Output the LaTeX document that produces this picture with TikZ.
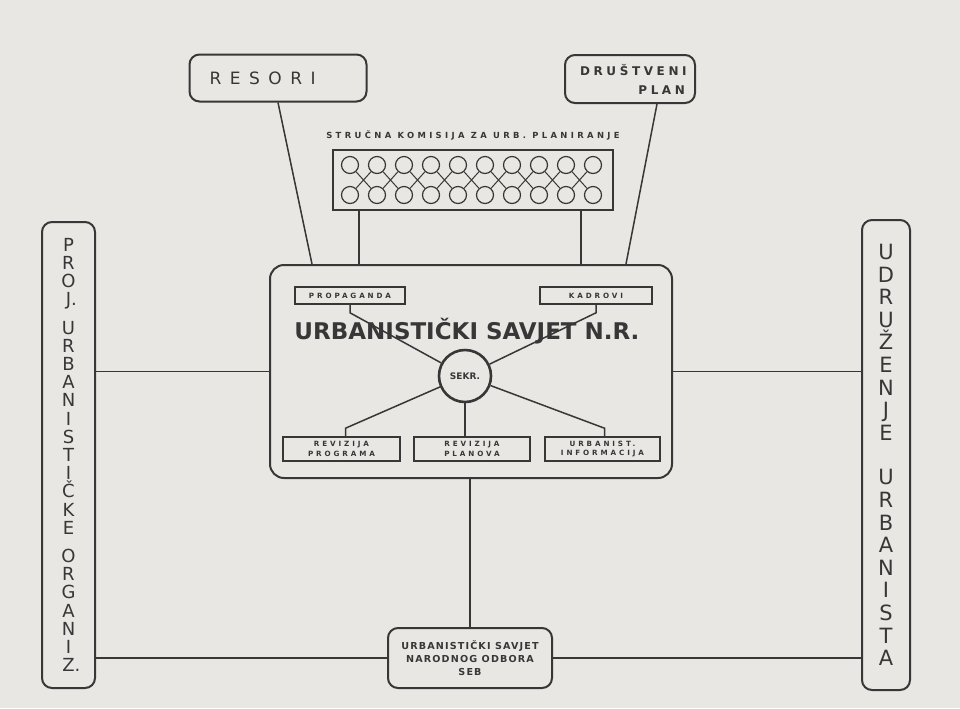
\documentclass[tikz,border=0pt]{standalone}
\usepackage{fontspec}
\setmainfont{DejaVu Sans}
\newfontfamily\wideink[LetterSpace=50]{DejaVu Sans}
\newfontfamily\midink[LetterSpace=30]{DejaVu Sans}
\newfontfamily\tagink[LetterSpace=40]{DejaVu Sans}
\newfontfamily\tightink[LetterSpace=12]{DejaVu Sans}
\usetikzlibrary{positioning, calc}
\definecolor{Paper}{RGB}{233,231,228}
\definecolor{Ink}{RGB}{55,55,55}

\begin{document}
\begin{tikzpicture}[
    x=0.5pt, y=-0.5pt, color=Ink,
    panel/.style={draw, line width=1pt, rounded corners=5pt, inner sep=0pt},
    tagbox/.style={draw, line width=0.8pt, inner sep=0pt, align=center,
        font=\tagink\bfseries\fontsize{3.6}{4.6}\selectfont},
    member/.style={circle, draw, line width=0.6pt, minimum size=8.5pt, inner sep=0pt},
    link/.style={line width=0.75pt},
    column/.style={panel, align=center, inner sep=0pt},
]
% --- papir ---
\fill[Paper] (0,0) rectangle (960,708);
\useasboundingbox (0,0) rectangle (960,708);

% --- gornji okviri ---
\node[panel, minimum width=88.5pt, minimum height=23.5pt] (resori) at (278,78) {};
\node[font=\wideink\fontsize{8.5}{10}\selectfont, anchor=west] at ($(resori.west)+(14,0)$) {RESORI};

\node[panel, minimum width=65pt, minimum height=24pt] (drus) at (630,79) {};
\node[font=\midink\bfseries\fontsize{6}{7}\selectfont, anchor=west] at ($(drus.west)+(9,-9)$) {DRUŠTVENI};
\node[font=\midink\bfseries\fontsize{6}{7}\selectfont, anchor=east] at ($(drus.east)+(-4,11)$) {PLAN};

% --- strucna komisija ---
\node[draw, line width=1pt, minimum width=140pt, minimum height=30pt, inner sep=0pt] (kom) at (473,180) {};
\node[font=\tagink\bfseries\fontsize{4.2}{5}\selectfont, above=1pt of kom] (komlbl) {STRUČNA KOMISIJA ZA URB. PLANIRANJE};
\foreach \i in {0,...,9}{
    \node[member] (t\i) at (350+27*\i,165) {};
    \node[member] (b\i) at (350+27*\i,195) {};
}
\foreach \i [count=\j from 1] in {0,...,8}{
    \draw[line width=0.5pt] (t\i) -- (b\j);
    \draw[line width=0.5pt] (b\i) -- (t\j);
}

% --- urbanisticki savjet N.R. ---
\node[panel, rounded corners=7pt, minimum width=201pt, minimum height=106.5pt] (main) at (471,371.5) {};
\node[tagbox, minimum width=55pt, minimum height=8.5pt] (prop) at (350,295.5) {PROPAGANDA};
\node[tagbox, minimum width=56pt, minimum height=8.5pt] (kadr) at (596,295.5) {KADROVI};
\node[font=\bfseries\fontsize{11.5}{13}\selectfont] (title) at (467,331) {URBANISTIČKI SAVJET N.R.};
\node[circle, draw, line width=1.3pt, minimum size=26pt, inner sep=0pt,
      font=\bfseries\fontsize{4.5}{5}\selectfont] (sekr) at (465,376) {SEKR.};
\node[tagbox, minimum width=58.5pt, minimum height=12pt] (rprog) at (341.5,449) {REVIZIJA\\PROGRAMA};
\node[tagbox, minimum width=58pt, minimum height=12pt] (rplan) at (472,449) {REVIZIJA\\PLANOVA};
\node[tagbox, minimum width=57.5pt, minimum height=12pt] (uinf) at (602.5,449) {URBANIST.\\INFORMACIJA};

\draw[link] (sekr) -- ($(prop.south)+(0,8)$) -- (prop.south);
\draw[link] (sekr) -- ($(kadr.south)+(0,8)$) -- (kadr.south);
\draw[link] (sekr) -- ($(rprog.north)+(4,-8)$) -- ($(rprog.north)+(4,0)$);
\draw[link] (sekr.south) -- (sekr.south |- rplan.north);
\draw[link] (sekr) -- ($(uinf.north)+(2,-8)$) -- ($(uinf.north)+(2,0)$);

% --- bocni stupci ---
\node[column, minimum width=26.5pt, minimum height=233pt,
      font=\fontsize{9}{9.1}\selectfont] (proj) at (68.5,455)
    {P\\R\\O\\J\rlap{.}\\[5pt]U\\R\\B\\A\\N\\I\\S\\T\\I\\Č\\K\\E\\[5pt]O\\R\\G\\A\\N\\I\\Z\rlap{.}};
\node[column, minimum width=24pt, minimum height=235pt,
      font=\fontsize{10.5}{11.3}\selectfont] (udr) at (886,455)
    {U\\D\\R\\U\\Ž\\E\\N\\J\\E\\[11pt]U\\R\\B\\A\\N\\I\\S\\T\\A};

% --- savjet narodnog odbora ---
\node[panel, minimum width=82pt, minimum height=30pt, align=center,
      font=\tightink\bfseries\fontsize{4.8}{6.5}\selectfont] (nosav) at (470,658)
    {URBANISTIČKI SAVJET\\NARODNOG ODBORA\\SEB};

% --- veze ---
\coordinate (k1) at ($(kom.south west)+(27,0)$);
\coordinate (k2) at ($(kom.south east)+(-33,0)$);
\draw[link] (k1) -- (k1 |- main.north);
\draw[link] (k2) -- (k2 |- main.north);
\draw[link] (resori.south) -- ($(main.north west)+(43,0)$);
\draw[link] ($(drus.south)+(27,0)$) -- ($(main.north west)+(357,0)$);
\draw[link] (main.west) -- (main.west -| proj.east);
\draw[link] (main.east) -- (main.east -| udr.west);
\draw[link] (nosav.north) -- (nosav.north |- main.south);
\draw[link] (nosav.west) -- (nosav.west -| proj.east);
\draw[link] (nosav.east) -- (nosav.east -| udr.west);
\end{tikzpicture}
\end{document}
